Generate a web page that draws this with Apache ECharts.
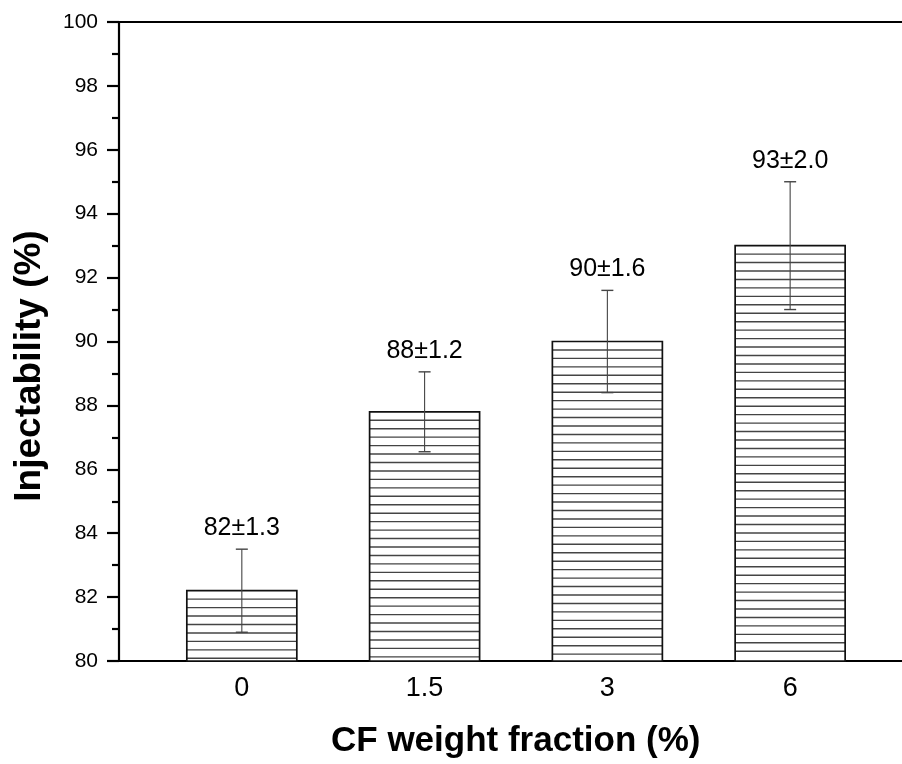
<!DOCTYPE html>
<html>
<head>
<meta charset="utf-8">
<script src="https://cdn.jsdelivr.net/npm/echarts@6/dist/echarts.min.js"></script>
<style>
html,body{margin:0;padding:0;background:#fff;}
#chart{width:902px;height:764px;}
</style>
</head>
<body>
<div id="chart"></div>
<script>
var categories = ['0', '1.5', '3', '6'];
var means = [82.2, 87.8, 90.0, 93.0];
var errors = [1.3, 1.25, 1.6, 2.0];
var valueLabels = ['82\u00B11.3', '88\u00B11.2', '90\u00B11.6', '93\u00B12.0'];
var yTicks = [80, 82, 84, 86, 88, 90, 92, 94, 96, 98, 100];

var FONT = '"Liberation Sans", Arial, sans-serif';
var chart = echarts.init(document.getElementById('chart'), null, {renderer: 'canvas'});

var seriesData = means.map(function (m, i) { return [i, m, errors[i]]; });

function renderItem(params, api) {
  var x = api.value(0), v = api.value(1), e = api.value(2);
  var top = api.coord([x, v]);
  var base = api.coord([x, 80]);
  var hi = api.coord([x, v + e]);
  var lo = api.coord([x, v - e]);
  var halfW = 55;
  var children = [];
  children.push({
    type: 'rect',
    shape: {x: top[0] - halfW, y: top[1], width: halfW * 2, height: base[1] - top[1]},
    style: {fill: '#fff', stroke: 'none'}
  });
  for (var yy = top[1] + 8.45; yy < base[1] - 2; yy += 8.45) {
    children.push({
      type: 'line',
      shape: {x1: top[0] - halfW, y1: yy, x2: top[0] + halfW, y2: yy},
      style: {stroke: '#444', lineWidth: 1.4}
    });
  }
  children.push({
    type: 'rect',
    shape: {x: top[0] - halfW, y: top[1], width: halfW * 2, height: base[1] - top[1]},
    style: {fill: 'none', stroke: '#111', lineWidth: 1.7}
  });
  var capW = 6;
  children.push({type: 'line', shape: {x1: hi[0], y1: hi[1], x2: lo[0], y2: lo[1]}, style: {stroke: '#444', lineWidth: 1.1}});
  children.push({type: 'line', shape: {x1: hi[0] - capW, y1: hi[1], x2: hi[0] + capW, y2: hi[1]}, style: {stroke: '#444', lineWidth: 1.4}});
  children.push({type: 'line', shape: {x1: lo[0] - capW, y1: lo[1], x2: lo[0] + capW, y2: lo[1]}, style: {stroke: '#444', lineWidth: 1.4}});
  children.push({
    type: 'text',
    x: hi[0], y: hi[1] - 21,
    style: {text: valueLabels[params.dataIndex], font: '25px ' + FONT, fill: '#000', align: 'center', verticalAlign: 'middle'}
  });
  return {type: 'group', children: children};
}

var option = {
  backgroundColor: '#fff',
  animation: false,
  grid: {left: 119, right: 0, top: 22, bottom: 103, containLabel: false},
  xAxis: [{
    type: 'value',
    min: -0.672, max: 3.612,
    splitLine: {show: false},
    axisLine: {show: true, onZero: false, lineStyle: {color: '#000', width: 2.2}},
    axisTick: {show: false},
    axisLabel: {
      show: true,
      customValues: [0, 1, 2, 3],
      formatter: function (v) { return categories[Math.round(v)]; },
      fontSize: 27, fontFamily: FONT, color: '#000', margin: 14
    }
  }, {
    type: 'value',
    position: 'top',
    min: -0.672, max: 3.612,
    splitLine: {show: false},
    axisLine: {show: true, onZero: false, lineStyle: {color: '#000', width: 2.2}},
    axisTick: {show: false},
    axisLabel: {show: false}
  }],
  yAxis: {
    type: 'value',
    min: 80, max: 100, interval: 2,
    splitLine: {show: false},
    axisLine: {show: true, onZero: false, lineStyle: {color: '#000', width: 2.2}},
    axisTick: {show: true, inside: false, length: 12, lineStyle: {color: '#000', width: 2.2}},
    minorTick: {show: true, splitNumber: 2, length: 7, lineStyle: {color: '#000', width: 2.2}},
    axisLabel: {
      fontSize: 21, fontFamily: FONT, color: '#000', margin: 21,
      formatter: function (v) { return yTicks.indexOf(v) >= 0 ? String(v) : ''; }
    }
  },
  series: [{
    type: 'custom',
    renderItem: renderItem,
    data: seriesData,
    encode: {x: 0, y: 1},
    clip: false
  }],
  graphic: [{
    type: 'text',
    left: 331, top: 724,
    style: {text: 'CF weight fraction (%)', font: 'bold 35px ' + FONT, fill: '#000'}
  }, {
    type: 'text',
    x: 30, y: 366,
    rotation: Math.PI / 2,
    style: {text: 'Injectability (%)', font: 'bold 37px ' + FONT, fill: '#000', align: 'center', verticalAlign: 'middle'}
  }]
};
chart.setOption(option);
</script>
</body>
</html>
